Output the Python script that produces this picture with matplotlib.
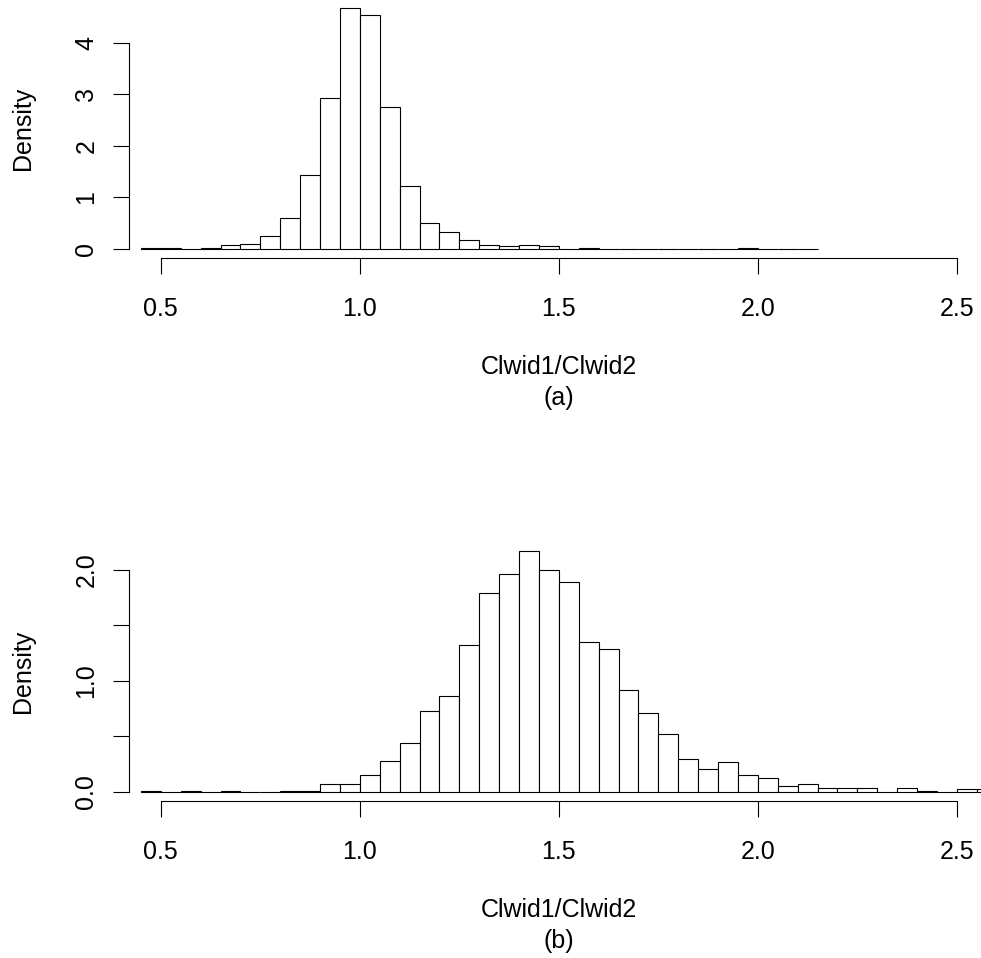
import numpy as np
import matplotlib.pyplot as plt

plt.rcParams['font.family'] = ['Liberation Sans', 'DejaVu Sans']

# Histogram densities, bin width 0.05
bin_width = 0.05

# (a) bins start at 0.45 and run to 2.15
start_a = 0.45
dens_a = [0.02, 0.02, 0.0, 0.02, 0.065, 0.09, 0.24, 0.59, 1.44, 2.93,
          4.68, 4.53, 2.76, 1.22, 0.49, 0.32, 0.175, 0.08, 0.045, 0.08,
          0.045, 0.0, 0.02, 0.0, 0.0, 0.0, 0.0, 0.0, 0.0, 0.0,
          0.02, 0.0, 0.0, 0.0]

# (b) bins start at 0.45 and run to 2.60
start_b = 0.45
dens_b = [0.01, 0.0, 0.01, 0.0, 0.01, 0.0, 0.0, 0.01, 0.01, 0.066,
          0.066, 0.147, 0.277, 0.44, 0.725, 0.866, 1.327, 1.793, 1.964, 2.169,
          1.998, 1.893, 1.35, 1.285, 0.92, 0.713, 0.52, 0.298, 0.205, 0.265,
          0.147, 0.123, 0.051, 0.069, 0.03, 0.03, 0.03, 0.0, 0.033, 0.01,
          0.0, 0.024, 0.02]

xticks = [0.5, 1.0, 1.5, 2.0, 2.5]
yticks_a = [0, 1, 2, 3, 4]
ylabels_a = ['0', '1', '2', '3', '4']
yticks_b = [0.0, 0.5, 1.0, 1.5, 2.0]
ylabels_b = ['0.0', '', '1.0', '', '2.0']

xlab = 'Clwid1/Clwid2'
subs = ['(a)', '(b)']

W, H = 981, 958
fig = plt.figure(figsize=(W / 100, H / 100), dpi=100)

FS = 18
LW = 0.8


def rhist(rect, start, dens, yticks, ylabels, sub):
    ax = fig.add_axes(rect)
    dens = np.asarray(dens)
    left = start + bin_width * np.arange(len(dens))
    ax.bar(left, dens, width=bin_width, align='edge', color='white',
           edgecolor='black', linewidth=LW)

    # R-style limits: 4% padding on both ends
    ax.set_xlim(0.42, 2.58)
    top = dens.max()
    ax.set_ylim(-0.04 * top, 1.04 * top)

    for s in ['top', 'right']:
        ax.spines[s].set_visible(False)
    for s in ['left', 'bottom']:
        ax.spines[s].set_linewidth(LW)
    ax.spines['bottom'].set_bounds(xticks[0], xticks[-1])
    ax.spines['left'].set_bounds(yticks[0], yticks[-1])

    ax.set_xticks(xticks)
    ax.set_xticklabels([f'{v:.1f}' for v in xticks])
    ax.set_yticks(yticks)
    ax.set_yticklabels(ylabels, rotation=90, va='center', ha='right')
    ax.tick_params(axis='both', length=11.5, width=LW, labelsize=FS)
    ax.tick_params(axis='x', pad=16.5)
    ax.tick_params(axis='y', pad=10.5)

    ax.annotate('Density', xy=(0, 0.5), xycoords='axes fraction',
                xytext=(-106, 0), textcoords='offset pixels',
                rotation=90, ha='center', va='center', fontsize=FS)
    ax.annotate(xlab, xy=(0.5, 0), xycoords='axes fraction',
                xytext=(0, -109), textcoords='offset pixels',
                ha='center', va='center', fontsize=FS)
    ax.annotate(sub, xy=(0.5, 0), xycoords='axes fraction',
                xytext=(0, -140), textcoords='offset pixels',
                ha='center', va='center', fontsize=FS)
    return ax


ax_w = 859.7 / W
rhist([129 / W, 1 - 258.3 / H, ax_w, 260.2 / H], start_a, dens_a,
      yticks_a, ylabels_a, subs[0])
rhist([129 / W, 1 - 801.3 / H, ax_w, 259.6 / H], start_b, dens_b,
      yticks_b, ylabels_b, subs[1])

fig.savefig('out.png', dpi=100)
